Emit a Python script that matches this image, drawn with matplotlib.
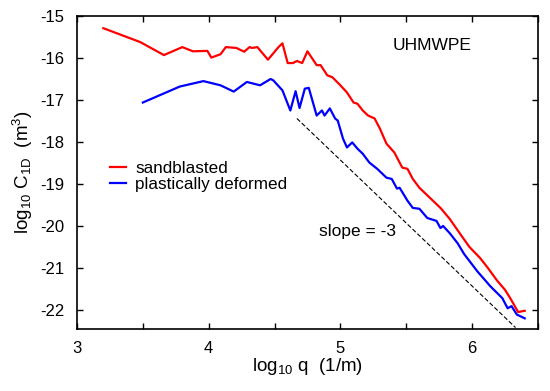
import matplotlib
matplotlib.use("Agg")
from matplotlib import pyplot as plt
from matplotlib.ticker import MultipleLocator

plt.rcParams["font.family"] = ["Liberation Sans", "DejaVu Sans"]
plt.rcParams["mathtext.fontset"] = "custom"
plt.rcParams["mathtext.rm"] = "Liberation Sans"
plt.rcParams["mathtext.it"] = "Liberation Sans"
plt.rcParams["axes.unicode_minus"] = False

# log10 q and log10 C1D
sand_x = [3.20, 3.48, 3.66, 3.80, 3.88, 3.99, 4.02, 4.09, 4.13, 4.21, 4.27, 4.31,
          4.33, 4.37, 4.45, 4.53, 4.56, 4.60, 4.64, 4.67, 4.71, 4.75, 4.82, 4.85,
          4.90, 4.94, 5.00, 5.05, 5.10, 5.13, 5.17, 5.21, 5.26, 5.30, 5.35, 5.41,
          5.47, 5.51, 5.55, 5.60, 5.68, 5.76, 5.83, 5.91, 5.98, 6.06, 6.12, 6.19,
          6.25, 6.29, 6.35, 6.40]
sand_y = [-15.29, -15.62, -15.93, -15.74, -15.84, -15.83, -15.99, -15.91, -15.74,
          -15.76, -15.85, -15.74, -15.76, -15.74, -16.04, -15.74, -15.65, -16.12,
          -16.12, -16.07, -16.12, -15.84, -16.17, -16.17, -16.41, -16.46, -16.65,
          -16.82, -17.06, -17.09, -17.25, -17.37, -17.44, -17.68, -18.04, -18.25,
          -18.61, -18.64, -18.88, -19.09, -19.33, -19.57, -19.83, -20.19, -20.50,
          -20.76, -21.00, -21.30, -21.52, -21.72, -22.05, -22.02]

plast_x = [3.50, 3.78, 3.96, 4.09, 4.19, 4.29, 4.39, 4.47, 4.49, 4.56, 4.62, 4.66,
           4.69, 4.73, 4.76, 4.78, 4.82, 4.86, 4.88, 4.92, 4.96, 4.98, 5.02, 5.05,
           5.09, 5.13, 5.17, 5.22, 5.28, 5.35, 5.39, 5.43, 5.45, 5.51, 5.55, 5.60,
           5.66, 5.73, 5.76, 5.78, 5.83, 5.89, 5.94, 6.04, 6.14, 6.23, 6.27, 6.30,
           6.34, 6.40]
plast_y = [-17.06, -16.68, -16.55, -16.65, -16.80, -16.57, -16.65, -16.50, -16.53,
           -16.77, -17.25, -16.79, -17.19, -16.73, -16.71, -16.93, -17.37, -17.25,
           -17.37, -17.20, -17.44, -17.49, -17.92, -18.13, -18.01, -18.16, -18.28,
           -18.49, -18.64, -18.85, -18.88, -19.11, -19.09, -19.40, -19.57, -19.59,
           -19.81, -19.88, -20.05, -20.00, -20.17, -20.41, -20.67, -21.08, -21.44,
           -21.72, -21.96, -21.91, -22.11, -22.20]

# slope -3 guide line
guide_x = [4.67, 6.33]
guide_y = [-17.44, -17.44 - 3 * (6.33 - 4.67)]

fig = plt.figure(figsize=(5.5, 3.91), dpi=100)
ax = fig.add_axes([0.14, 0.159, 0.838, 0.8])

ax.plot(sand_x, sand_y, color="#ff0000", lw=1.6, label="sandblasted")
ax.plot(plast_x, plast_y, color="#0000ff", lw=1.6, label="plastically deformed")
ax.plot(guide_x, guide_y, color="black", lw=0.8, ls=(0, (4, 2)))

ax.text(5.70, -15.69, "UHMWPE", fontsize=12.5, ha="center", va="center")
ax.text(5.13, -20.14, "slope = -3", fontsize=12.5, ha="center", va="center")

ax.set_xlim(3, 6.5)
ax.set_ylim(-22.45, -15)
ax.xaxis.set_major_locator(MultipleLocator(1))
ax.xaxis.set_minor_locator(MultipleLocator(0.5))
ax.yaxis.set_major_locator(MultipleLocator(1))
ax.tick_params(which="both", direction="in", top=True, right=True,
               length=4, width=1, labelsize=12)
ax.tick_params(axis="x", pad=9)
ax.tick_params(axis="y", pad=9)
for s in ax.spines.values():
    s.set_linewidth(1.2)

ax.set_xlabel(r"log$_{10}$ q  (1/m)", fontsize=13.5, labelpad=0)
ax.set_ylabel(r"log$_{10}$ C$_{1D}$  (m$^3$)", fontsize=13.5, labelpad=4)

ax.legend(loc="upper left", bbox_to_anchor=(0.052, 0.565), frameon=False,
          fontsize=12.3, handlelength=0.95, handletextpad=0.55, labelspacing=0.1,
          borderpad=0)

fig.savefig("out.png", dpi=100)
